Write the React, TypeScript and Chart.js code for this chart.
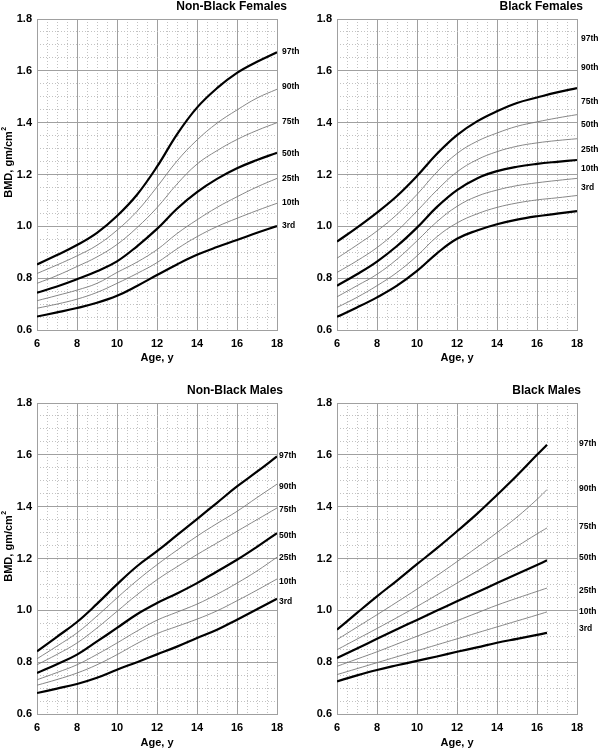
import React, { useEffect, useRef } from "react";
import { Chart, registerables } from "chart.js";

Chart.register(...registerables);

const FONT = '"Liberation Sans", Arial, Helvetica, sans-serif';

const PERCENTILES = ["97th", "90th", "75th", "50th", "25th", "10th", "3rd"];
const THICK = [0, 3, 6];

const AGES = [6, 7, 8, 9, 10, 11, 12, 13, 14, 15, 16, 17, 18];
const BM_AGES = [6, 7, 8, 9, 10, 11, 12, 13, 14, 15, 16, 16.5];

const X_TICKS_STEP = 2;
const Y_TICKS_STEP = 0.2;

// Non-Black Females
const NBF_P97 = [0.853, 0.889, 0.928, 0.975, 1.04, 1.122, 1.23, 1.355, 1.458, 1.533, 1.592, 1.635, 1.672];
const NBF_P90 = [0.818, 0.851, 0.886, 0.927, 0.985, 1.058, 1.152, 1.252, 1.333, 1.398, 1.449, 1.495, 1.529];
const NBF_P75 = [0.78, 0.81, 0.845, 0.882, 0.93, 0.995, 1.072, 1.163, 1.24, 1.292, 1.335, 1.37, 1.4];
const NBF_P50 = [0.744, 0.768, 0.796, 0.827, 0.865, 0.923, 0.99, 1.068, 1.132, 1.183, 1.224, 1.256, 1.284];
const NBF_P25 = [0.713, 0.733, 0.754, 0.78, 0.822, 0.862, 0.91, 0.972, 1.025, 1.073, 1.114, 1.152, 1.185];
const NBF_P10 = [0.684, 0.7, 0.719, 0.745, 0.78, 0.818, 0.86, 0.913, 0.96, 0.999, 1.031, 1.061, 1.089];
const NBF_P3 = [0.652, 0.668, 0.685, 0.705, 0.732, 0.77, 0.812, 0.853, 0.89, 0.92, 0.947, 0.975, 1.001];
const NBF_LABEL_Y = [1.673, 1.538, 1.403, 1.279, 1.183, 1.09, 1.001];

// Black Females
const BF_P97 = [0.941, 0.995, 1.053, 1.117, 1.194, 1.28, 1.352, 1.405, 1.444, 1.476, 1.497, 1.517, 1.533];
const BF_P90 = [0.877, 0.928, 0.982, 1.046, 1.123, 1.21, 1.281, 1.328, 1.36, 1.386, 1.403, 1.418, 1.431];
const BF_P75 = [0.822, 0.867, 0.918, 0.982, 1.059, 1.14, 1.21, 1.257, 1.288, 1.309, 1.322, 1.331, 1.338];
const BF_P50 = [0.771, 0.815, 0.864, 0.924, 0.995, 1.075, 1.14, 1.185, 1.213, 1.23, 1.241, 1.249, 1.256];
const BF_P25 = [0.728, 0.771, 0.815, 0.873, 0.944, 1.018, 1.077, 1.116, 1.14, 1.157, 1.168, 1.177, 1.185];
const BF_P10 = [0.687, 0.726, 0.771, 0.822, 0.886, 0.96, 1.013, 1.048, 1.073, 1.09, 1.102, 1.11, 1.119];
const BF_P3 = [0.651, 0.687, 0.726, 0.771, 0.828, 0.896, 0.952, 0.984, 1.008, 1.026, 1.039, 1.049, 1.059];
const BF_LABEL_Y = [1.723, 1.611, 1.48, 1.391, 1.295, 1.221, 1.148];

// Non-Black Males
const NBM_P97 = [0.842, 0.898, 0.955, 1.025, 1.1, 1.17, 1.228, 1.29, 1.352, 1.415, 1.478, 1.535, 1.594];
const NBM_P90 = [0.813, 0.862, 0.913, 0.978, 1.048, 1.115, 1.176, 1.232, 1.286, 1.335, 1.382, 1.435, 1.487];
const NBM_P75 = [0.79, 0.83, 0.874, 0.932, 0.996, 1.06, 1.118, 1.168, 1.215, 1.26, 1.305, 1.35, 1.395];
const NBM_P50 = [0.758, 0.792, 0.829, 0.88, 0.932, 0.985, 1.028, 1.065, 1.105, 1.15, 1.195, 1.245, 1.298];
const NBM_P25 = [0.732, 0.76, 0.79, 0.83, 0.874, 0.92, 0.962, 0.993, 1.024, 1.062, 1.105, 1.152, 1.205];
const NBM_P10 = [0.711, 0.733, 0.758, 0.79, 0.829, 0.872, 0.91, 0.938, 0.966, 0.998, 1.037, 1.078, 1.121];
const NBM_P3 = [0.681, 0.698, 0.716, 0.74, 0.771, 0.8, 0.83, 0.86, 0.893, 0.925, 0.964, 1.004, 1.045];
const NBM_LABEL_Y = [1.596, 1.476, 1.387, 1.287, 1.202, 1.109, 1.032];

// Black Males
const BM_P97 = [0.925, 0.99, 1.054, 1.115, 1.178, 1.24, 1.305, 1.372, 1.445, 1.52, 1.6, 1.639];
const BM_P90 = [0.887, 0.935, 0.983, 1.032, 1.082, 1.134, 1.188, 1.243, 1.3, 1.36, 1.428, 1.466];
const BM_P75 = [0.848, 0.889, 0.93, 0.972, 1.015, 1.06, 1.105, 1.152, 1.2, 1.247, 1.295, 1.318];
const BM_P50 = [0.816, 0.853, 0.89, 0.927, 0.963, 0.999, 1.035, 1.07, 1.105, 1.14, 1.175, 1.193];
const BM_P25 = [0.784, 0.812, 0.84, 0.87, 0.9, 0.93, 0.96, 0.99, 1.02, 1.047, 1.073, 1.086];
const BM_P10 = [0.752, 0.775, 0.798, 0.821, 0.844, 0.867, 0.89, 0.913, 0.936, 0.959, 0.982, 0.994];
const BM_P3 = [0.726, 0.749, 0.77, 0.788, 0.805, 0.822, 0.84, 0.857, 0.875, 0.89, 0.905, 0.913];
const BM_LABEL_Y = [1.642, 1.468, 1.322, 1.202, 1.075, 0.994, 0.928];

type Panel = {
  title: string;
  ages: number[];
  series: number[][];
  labelY: number[];
  yTitle: boolean;
  top: boolean;
  titleDx: number;
  labelDx: number;
};

const PANELS: Panel[] = [
  { title: "Non-Black Females", ages: AGES, series: [NBF_P97, NBF_P90, NBF_P75, NBF_P50, NBF_P25, NBF_P10, NBF_P3], labelY: NBF_LABEL_Y, yTitle: true, top: true, titleDx: 10, labelDx: 5 },
  { title: "Black Females", ages: AGES, series: [BF_P97, BF_P90, BF_P75, BF_P50, BF_P25, BF_P10, BF_P3], labelY: BF_LABEL_Y, yTitle: false, top: true, titleDx: 6, labelDx: 4 },
  { title: "Non-Black Males", ages: AGES, series: [NBM_P97, NBM_P90, NBM_P75, NBM_P50, NBM_P25, NBM_P10, NBM_P3], labelY: NBM_LABEL_Y, yTitle: true, top: false, titleDx: 6, labelDx: 2 },
  { title: "Black Males", ages: BM_AGES, series: [BM_P97, BM_P90, BM_P75, BM_P50, BM_P25, BM_P10, BM_P3], labelY: BM_LABEL_Y, yTitle: false, top: false, titleDx: 4, labelDx: 2 },
];

const overlayPlugin = {
  id: "overlay",
  afterDraw(chart: any, _args: any, opts: any) {
    const { ctx, chartArea, scales } = chart;
    ctx.save();
    ctx.fillStyle = "#000";
    ctx.font = `bold 12px ${FONT}`;
    ctx.textAlign = "right";
    ctx.textBaseline = "middle";
    ctx.fillText(opts.title, chartArea.right + opts.titleDx, chartArea.top - 12.5);

    ctx.font = `bold 8.5px ${FONT}`;
    ctx.textAlign = "left";
    (opts.labelY as number[]).forEach((v, i) => {
      ctx.fillText(PERCENTILES[i], chartArea.right + opts.labelDx, scales.y.getPixelForValue(v));
    });

    if (opts.yTitle) {
      const cy = (chartArea.top + chartArea.bottom) / 2 - 12;
      ctx.translate(8.5, cy);
      ctx.rotate(-Math.PI / 2);
      ctx.font = `bold 11px ${FONT}`;
      const main = "BMD, gm/cm";
      const wMain = ctx.measureText(main).width;
      ctx.font = `bold 7px ${FONT}`;
      const wSup = ctx.measureText("2").width;
      const start = -(wMain + wSup) / 2;
      ctx.font = `bold 11px ${FONT}`;
      ctx.textAlign = "left";
      ctx.fillText(main, start, 0);
      ctx.font = `bold 7px ${FONT}`;
      ctx.fillText("2", start + wMain + 0.5, -4);
    }
    ctx.restore();
  },
};

function PanelChart({ panel, left, topPx, height }: { panel: Panel; left: number; topPx: number; height: number }) {
  const ref = useRef<HTMLCanvasElement | null>(null);
  useEffect(() => {
    if (!ref.current) return;
    const tickFont = { family: FONT, size: 11, weight: "bold" as const };
    const datasets = panel.series.map((vals, i) => {
      const thick = THICK.includes(i);
      return {
        label: PERCENTILES[i],
        data: panel.ages.map((a, j) => ({ x: a, y: vals[j] })),
        borderColor: thick ? "#000000" : "#7a7a7a",
        borderWidth: thick ? 2.2 : 0.9,
        pointRadius: 0,
        tension: 0.4,
        fill: false,
        order: thick ? 0 : 1,
      };
    });
    const axisH = panel.top ? 40 : 36;
    const chart = new Chart(ref.current, {
      type: "line",
      data: { datasets },
      plugins: [overlayPlugin],
      options: {
        animation: false,
        responsive: false,
        layout: { padding: { top: panel.top ? 19 : 33, right: 23, left: 0, bottom: 0 } },
        plugins: {
          legend: { display: false },
          tooltip: { enabled: false },
          // @ts-ignore
          overlay: { title: panel.title, labelY: panel.labelY, yTitle: panel.yTitle, titleDx: panel.titleDx, labelDx: panel.labelDx },
        },
        scales: {
          xm: {
            type: "linear",
            position: "bottom",
            min: 6,
            max: 18,
            ticks: { display: false, stepSize: 0.5 },
            grid: { color: "#c2c2c2", lineWidth: 1, drawTicks: false },
            border: { display: false, dash: [1, 2] },
            afterFit: (s: any) => { s.height = 0; },
          },
          x: {
            type: "linear",
            position: "bottom",
            min: 6,
            max: 18,
            ticks: { stepSize: X_TICKS_STEP, font: tickFont, color: "#000", padding: 7, maxRotation: 0, autoSkip: false },
            grid: { color: "#a0a0a0", lineWidth: 1, drawTicks: false },
            border: { color: "#a0a0a0", width: 1 },
            title: { display: true, text: "Age, y", font: tickFont, color: "#000", padding: { top: 0, bottom: panel.top ? 5 : 0 } },
            afterFit: (s: any) => { s.height = axisH; },
          },
          ym: {
            type: "linear",
            position: "left",
            min: 0.6,
            max: 1.8,
            ticks: { display: false, stepSize: 0.05 },
            grid: { color: "#c2c2c2", lineWidth: 1, drawTicks: false },
            border: { display: false, dash: [1, 2] },
            afterFit: (s: any) => { s.width = 0; },
          },
          y: {
            type: "linear",
            position: "left",
            min: 0.6,
            max: 1.8,
            ticks: {
              stepSize: Y_TICKS_STEP,
              font: tickFont,
              color: "#000",
              padding: 5,
              autoSkip: false,
              callback: (v: any) => Number(v).toFixed(1),
            },
            grid: { color: "#a0a0a0", lineWidth: 1, drawTicks: false },
            border: { color: "#a0a0a0", width: 1 },
            afterFit: (s: any) => { s.width = 37; },
          },
        },
      } as any,
    });
    return () => chart.destroy();
  }, [panel]);
  return (
    <canvas
      ref={ref}
      width={300}
      height={height}
      style={{ position: "absolute", left, top: topPx, width: 300, height }}
    />
  );
}

export default function App() {
  return (
    <div style={{ position: "absolute", left: 0, top: 0, width: 600, height: 750, background: "#fff" }}>
      <PanelChart panel={PANELS[0]} left={0} topPx={0} height={370} />
      <PanelChart panel={PANELS[1]} left={300} topPx={0} height={370} />
      <PanelChart panel={PANELS[2]} left={0} topPx={370} height={380} />
      <PanelChart panel={PANELS[3]} left={300} topPx={370} height={380} />
    </div>
  );
}
